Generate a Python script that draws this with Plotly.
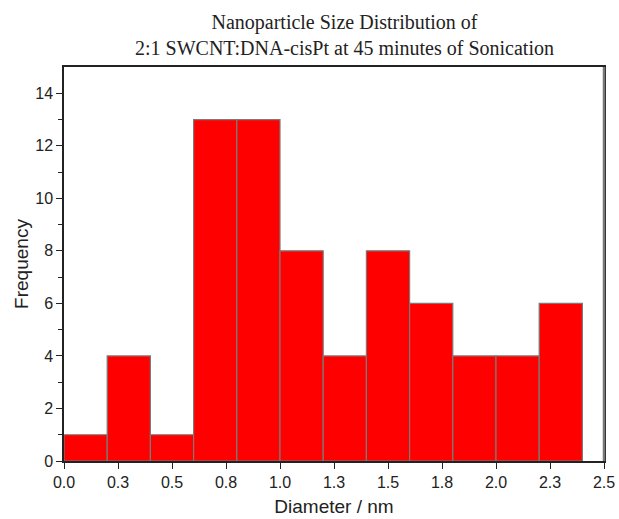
import plotly.graph_objects as go

bin_left = [0.0, 0.2, 0.4, 0.6, 0.8, 1.0, 1.2, 1.4, 1.6, 1.8, 2.0, 2.2]
bin_width = 0.2
counts = [1, 4, 1, 13, 13, 8, 4, 8, 6, 4, 4, 6]
x_tick_vals = [0.0, 0.25, 0.5, 0.75, 1.0, 1.25, 1.5, 1.75, 2.0, 2.25, 2.5]
x_tick_text = ["0.0", "0.3", "0.5", "0.8", "1.0", "1.3", "1.5", "1.8", "2.0", "2.3", "2.5"]
y_tick_vals = [0, 2, 4, 6, 8, 10, 12, 14]

centers = [b + bin_width / 2 for b in bin_left]

fig = go.Figure(go.Bar(
    x=centers, y=counts, width=[bin_width] * len(counts),
    marker=dict(color="#ff0000", line=dict(color="#7a7a7a", width=1.2)),
))

fig.update_layout(
    width=619, height=519,
    margin=dict(l=64, r=15, t=67, b=58, autoexpand=False),
    paper_bgcolor="white", plot_bgcolor="white",
    showlegend=False,
    font=dict(family="Liberation Sans", color="#222"),
)

fig.add_annotation(
    text="Nanoparticle Size Distribution of<br>2:1 SWCNT:DNA-cisPt at 45 minutes of Sonication",
    xref="paper", yref="paper", x=0.52, y=1, xanchor="center", yanchor="bottom",
    yshift=6, showarrow=False, align="center",
    font=dict(family="Liberation Serif", size=20, color="#222"),
)

fig.update_xaxes(
    range=[0, 2.5], tickvals=x_tick_vals, ticktext=x_tick_text,
    ticks="outside", ticklen=6, tickwidth=1.2, tickcolor="#222",
    showline=True, linecolor="#222", linewidth=1.5, mirror=True,
    showgrid=False, zeroline=False, automargin=False,
    tickfont=dict(size=16),
    title=dict(text="Diameter / nm", font=dict(size=19), standoff=10),
)
fig.update_yaxes(
    range=[0, 15], tickvals=y_tick_vals,
    ticks="outside", ticklen=6, tickwidth=1.2, tickcolor="#222",
    minor=dict(tickvals=[1, 3, 5, 7, 9, 11, 13], ticks="outside", ticklen=4, tickcolor="#222", tickwidth=1.2),
    showline=True, linecolor="#222", linewidth=1.5, mirror=True,
    showgrid=False, zeroline=False, automargin=False,
    tickfont=dict(size=16),
    title=dict(text="Frequency", font=dict(size=19), standoff=2),
)

fig.add_shape(type="line", xref="paper", yref="paper", x0=1, x1=1, y0=0, y1=1,
              line=dict(color="#777", width=2.5))

fig.write_html("out.html")
